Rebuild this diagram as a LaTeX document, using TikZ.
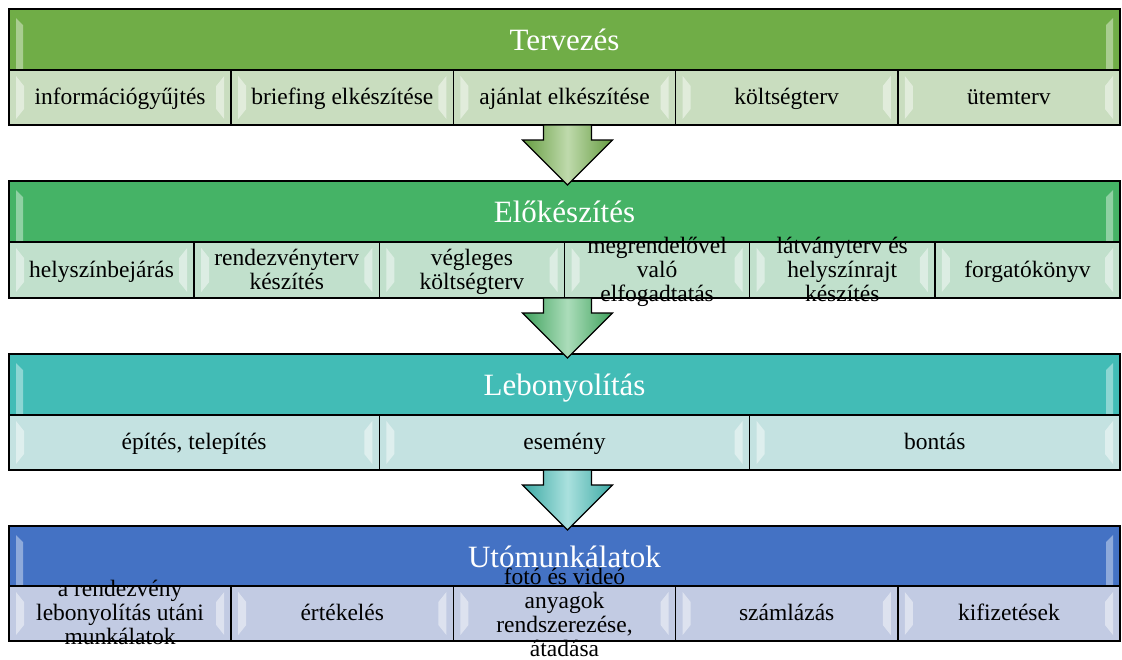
\documentclass[tikz,border=0pt]{standalone}
\usepackage{fontspec}
\setmainfont{Liberation Serif}
\usetikzlibrary{calc}
\definecolor{gA}{HTML}{70AD47}
\definecolor{gAl}{HTML}{C9DDBF}
\definecolor{gB}{HTML}{45B366}
\definecolor{gBl}{HTML}{C1E0CC}
\definecolor{tC}{HTML}{42BCB6}
\definecolor{tCl}{HTML}{C4E2E1}
\definecolor{bD}{HTML}{4472C4}
\definecolor{bDl}{HTML}{C2CBE3}
\tikzset{
  hdr/.style={draw=black, line width=1.6pt, minimum height=61pt, minimum width=1111pt, anchor=north west, inner sep=0pt, outer sep=0pt},
  subbox/.style={draw=black, line width=1.6pt, anchor=north west, inner sep=0pt, outer sep=0pt, minimum height=55pt},
  htxt/.style={text=white, font=\fontsize{31}{31}\selectfont, inner sep=0pt, anchor=base},
  stxt/.style={text=black, font=\fontsize{23.5}{24}\selectfont, align=center, inner sep=0pt},
  bev/.style={fill=white, fill opacity=0.45, draw=none},
  arrowshape/.style={draw=black, line width=1.2pt, line join=miter},
}
\newcommand{\mybevel}[4]{% x0 x1 y0 y1
  \path[bev] (#1+7,#3+6) -- (#1+15,#3+16) -- (#1+15,#4-16) -- (#1+7,#4-6) -- cycle;
  \path[bev] (#2-7,#3+6) -- (#2-15,#3+16) -- (#2-15,#4-16) -- (#2-7,#4-6) -- cycle;
}
\newcommand{\myhbevel}[2]{% y0 y1
  \path[fill=white, fill opacity=0.4] (16,#1+9) -- (23,#1+16) -- (23,#2) -- (16,#2) -- cycle;
  \path[fill=white, fill opacity=0.4] (1113,#1+9) -- (1106,#1+16) -- (1106,#2) -- (1113,#2) -- cycle;
}
\begin{document}
\begin{tikzpicture}[x=1pt,y=-1pt]
\useasboundingbox (0,0) rectangle (1122,659);

% ---------- Row 1 ----------
\node[hdr, fill=gA] (h1) at (9,9) {};
\myhbevel{9}{70}
\node[htxt] (h1t) at ($(h1.center)+(0,11)$) {Tervezés};
\pgfmathsetmacro\wA{1111/5}
\foreach \t [count=\i] in {\strut információgyűjtés, \strut briefing elkészítése, \strut ajánlat elkészítése, \strut költségterv, \strut ütemterv}{
  \pgfmathsetmacro\xa{9+(\i-1)*\wA}
  \pgfmathsetmacro\xb{\xa+\wA}
  \node[subbox, fill=gAl, minimum width=\wA pt] (s1-\i) at (\xa,70) {};
  \mybevel{\xa}{\xb}{70}{125}
  \node[stxt] (t1-\i) at ($(s1-\i.center)+(0,2.5)$) {\t};
}

% ---------- Row 2 ----------
\node[hdr, fill=gB] (h2) at (9,181) {};
\myhbevel{181}{242}
\node[htxt] (h2t) at ($(h2.center)+(0,11)$) {Előkészítés};
\pgfmathsetmacro\wB{1111/6}
\foreach \t [count=\i] in {\strut helyszínbejárás, {\strut rendezvényterv\\\strut készítés}, {\strut végleges\\\strut költségterv}, {\strut megrendelővel\\\strut való\\\strut elfogadtatás}, {\strut látványterv és\\\strut helyszínrajt\\\strut készítés}, \strut forgatókönyv}{
  \pgfmathsetmacro\xa{9+(\i-1)*\wB}
  \pgfmathsetmacro\xb{\xa+\wB}
  \node[subbox, fill=gBl, minimum width=\wB pt, minimum height=56pt] (s2-\i) at (\xa,242) {};
  \mybevel{\xa}{\xb}{242}{298}
  \node[stxt] (t2-\i) at ($(s2-\i.center)+(0,2.5)$) {\t};
}

% ---------- Row 3 ----------
\node[hdr, fill=tC] (h3) at (9,354) {};
\myhbevel{354}{415}
\node[htxt] (h3t) at ($(h3.center)+(0,11)$) {Lebonyolítás};
\pgfmathsetmacro\wC{1111/3}
\foreach \t [count=\i] in {{\strut építés, telepítés}, \strut esemény, \strut bontás}{
  \pgfmathsetmacro\xa{9+(\i-1)*\wC}
  \pgfmathsetmacro\xb{\xa+\wC}
  \node[subbox, fill=tCl, minimum width=\wC pt] (s3-\i) at (\xa,415) {};
  \mybevel{\xa}{\xb}{415}{470}
  \node[stxt] (t3-\i) at ($(s3-\i.center)+(0,2.5)$) {\t};
}

% ---------- Row 4 ----------
\node[hdr, fill=bD, minimum height=60pt] (h4) at (9,526) {};
\myhbevel{526}{586}
\node[htxt] (h4t) at ($(h4.center)+(0,11)$) {Utómunkálatok};
\foreach \t [count=\i] in {{\strut a rendezvény\\\strut lebonyolítás utáni\\\strut munkálatok}, \strut értékelés, {\strut fotó és videó\\\strut anyagok\\\strut rendszerezése,\\\strut átadása}, \strut számlázás, \strut kifizetések}{
  \pgfmathsetmacro\xa{9+(\i-1)*\wA}
  \pgfmathsetmacro\xb{\xa+\wA}
  \node[subbox, fill=bDl, minimum width=\wA pt] (s4-\i) at (\xa,586) {};
  \mybevel{\xa}{\xb}{586}{641}
  \node[stxt] (t4-\i) at ($(s4-\i.center)+(0,2.5)$) {\t};
}

% ---------- Arrows ----------
\foreach \a/\b/\c in {s1-1/h2/gA, s2-1/h3/gB, s3-1/h4/tC}{
  \coordinate (top) at ($(h1.center |- \a.south)+(3,0)$);
  \coordinate (tip) at ($(h1.center |- \b.north)+(3,4)$);
  \draw[arrowshape, left color=\c!90!black, right color=\c!90!black, middle color=\c!45!white]
    let \p1=(top), \p2=(tip) in
    (\x1-24pt,\y1) -- (\x1+24pt,\y1) -- (\x1+24pt,\y2+45pt) -- (\x1+45pt,\y2+45pt)
    -- (\x2,\y2) -- (\x1-45pt,\y2+45pt) -- (\x1-24pt,\y2+45pt) -- cycle;
}
\end{tikzpicture}
\end{document}
